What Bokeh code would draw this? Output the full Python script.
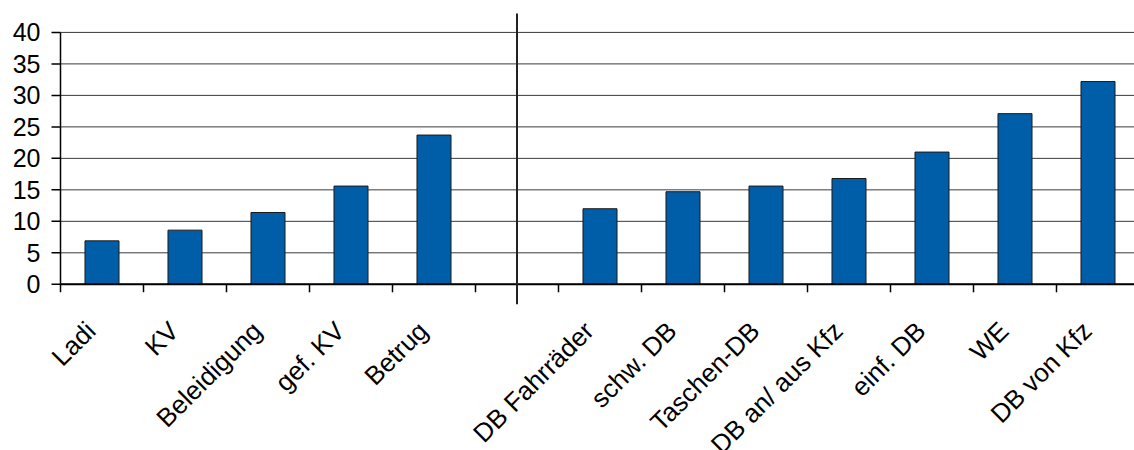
import math
from bokeh.plotting import figure
from bokeh.models import Range1d, ColumnDataSource
from bokeh.core.properties import value
from bokeh.embed import file_html
from bokeh.resources import INLINE

# ---- data ----
left_categories = ["Ladi", "KV", "Beleidigung", "gef. KV", "Betrug"]
left_values = [6.9, 8.6, 11.4, 15.6, 23.7]
right_categories = ["DB Fahrräder", "schw. DB", "Taschen-DB", "DB an/ aus Kfz",
                    "einf. DB", "WE", "DB von Kfz"]
right_values = [12.0, 14.7, 15.6, 16.8, 21.0, 27.1, 32.2]
y_ticks = [0, 5, 10, 15, 20, 25, 30, 35, 40]

# ---- layout helpers ----
gap_slot = len(left_categories)               # empty slot between groups
n_slots = len(left_categories) + 1 + len(right_categories)
x_pos = [i + 0.5 for i in range(len(left_categories))] + \
        [gap_slot + 1 + i + 0.5 for i in range(len(right_categories))]
cats = left_categories + right_categories
vals = left_values + right_values

W, H = 1134, 450
AXIS_PX = 60          # pixel column of the y axis
SLOT_PX = 83.0        # pixel width of one category slot
PX_PER_Y = 6.297      # pixels per y unit
ZERO_PX = 283.8       # pixel row of y = 0

x_start = -AXIS_PX / SLOT_PX
x_end = (W - AXIS_PX) / SLOT_PX
y_end = ZERO_PX / PX_PER_Y
y_start = -(H - ZERO_PX) / PX_PER_Y
y_max = y_ticks[-1]

src = ColumnDataSource(dict(x=x_pos, top=vals, cat=cats, y0=[0] * len(cats)))

p = figure(width=W, height=H, x_range=Range1d(x_start, x_end), y_range=Range1d(y_start, y_end),
           x_axis_type=None, y_axis_type=None, output_backend="svg", toolbar_location=None,
           min_border_left=0, min_border_right=0, min_border_top=0, min_border_bottom=0,
           outline_line_color=None, background_fill_color="white", border_fill_color="white")
p.grid.visible = False

# horizontal gridlines
p.segment(x0=[0] * len(y_ticks), y0=y_ticks, x1=[x_end] * len(y_ticks), y1=y_ticks,
          line_color="#3a3a3a", line_width=1)

# bars
p.vbar(x="x", top="top", bottom=0, width=0.41, source=src,
       fill_color="#005EA8", line_color="#1a1a1a", line_width=1)

# y axis line, ticks and labels
p.segment(x0=[0], y0=[0], x1=[0], y1=[y_max], line_color="black", line_width=1.5)
p.segment(x0=[0] * len(y_ticks), y0=y_ticks, x1=[-9 / SLOT_PX] * len(y_ticks), y1=y_ticks,
          line_color="black", line_width=1.5)
p.text(x=[0] * len(y_ticks), y=y_ticks, text=[str(t) for t in y_ticks],
       x_offset=-20, text_align="right", text_baseline="middle",
       text_font=value("Liberation Sans"), text_font_size="25px", text_color="black")

# x axis line
p.segment(x0=[0], y0=[0], x1=[x_end], y1=[0], line_color="black", line_width=2)
# boundary tick marks
bounds = list(range(n_slots))
tick_len = 8 / PX_PER_Y
p.segment(x0=bounds, y0=[0] * len(bounds), x1=bounds, y1=[-tick_len] * len(bounds),
          line_color="black", line_width=1.5)
# group divider
div_x = gap_slot + 0.5
p.segment(x0=[div_x], y0=[y_end - 13 / PX_PER_Y], x1=[div_x], y1=[-20 / PX_PER_Y],
          line_color="#222222", line_width=2)

# category labels
p.text(x="x", y="y0", text="cat", source=src, angle=math.pi / 4,
       text_align="right", text_baseline="middle",
       x_offset=-11, y_offset=42,
       text_font=value("Liberation Sans"), text_font_size="26px", text_color="black")

open("out.html", "w").write(file_html(p, INLINE))
